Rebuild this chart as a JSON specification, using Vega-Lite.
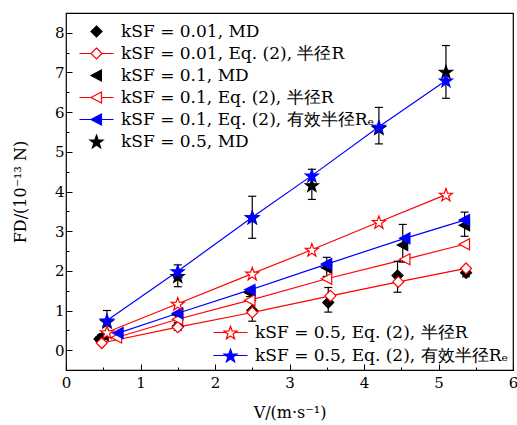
{
  "$schema": "https://vega.github.io/schema/vega-lite/v6.json",
  "width": 447,
  "height": 357,
  "autosize": "none",
  "padding": {"left": 66, "top": 13, "right": 4, "bottom": 55},
  "config": {
    "view": {"stroke": "#000", "strokeWidth": 1.2},
    "font": "DejaVu Serif",
    "axis": {"domain": false, "grid": false, "labelFont": "DejaVu Serif", "labelFontSize": 15, "labelColor": "#000", "titleFont": "DejaVu Serif", "titleFontSize": 16, "titleFontWeight": "normal", "titleColor": "#000", "tickColor": "#000", "tickWidth": 1},
    "legend": {"labelFont": "DejaVu Serif", "labelFontSize": 17, "labelColor": "#000", "labelLimit": 500, "padding": 0, "symbolStrokeWidth": 1.2, "symbolSize": 121, "symbolOpacity": 1, "rowPadding": 4, "labelOffset": 16}
  },
  "datasets": {
    "pts": [
      {"s": "kSF = 0.01, MD", "v": 0.45, "f": 0.28, "lo": 0.22, "hi": 0.34},
      {"s": "kSF = 0.01, MD", "v": 1.5, "f": 0.6, "lo": 0.5, "hi": 0.7},
      {"s": "kSF = 0.01, MD", "v": 2.5, "f": 1.0, "lo": 0.73, "hi": 1.25},
      {"s": "kSF = 0.01, MD", "v": 3.52, "f": 1.2, "lo": 0.96, "hi": 1.58},
      {"s": "kSF = 0.01, MD", "v": 4.45, "f": 1.88, "lo": 1.46, "hi": 2.24},
      {"s": "kSF = 0.01, MD", "v": 5.37, "f": 1.95, "lo": 1.85, "hi": 2.05},
      {"s": "kSF = 0.01, Eq. (2), 半径R", "v": 0.48, "f": 0.18},
      {"s": "kSF = 0.01, Eq. (2), 半径R", "v": 1.5, "f": 0.58},
      {"s": "kSF = 0.01, Eq. (2), 半径R", "v": 2.5, "f": 0.95},
      {"s": "kSF = 0.01, Eq. (2), 半径R", "v": 3.55, "f": 1.37},
      {"s": "kSF = 0.01, Eq. (2), 半径R", "v": 4.46, "f": 1.72},
      {"s": "kSF = 0.01, Eq. (2), 半径R", "v": 5.37, "f": 2.06},
      {"s": "kSF = 0.1, MD", "v": 0.5, "f": 0.38},
      {"s": "kSF = 0.1, MD", "v": 1.5, "f": 0.9},
      {"s": "kSF = 0.1, MD", "v": 2.47, "f": 1.45, "lo": 1.35, "hi": 1.55},
      {"s": "kSF = 0.1, MD", "v": 3.5, "f": 2.08, "lo": 1.86, "hi": 2.34},
      {"s": "kSF = 0.1, MD", "v": 4.52, "f": 2.65, "lo": 2.22, "hi": 3.17},
      {"s": "kSF = 0.1, MD", "v": 5.35, "f": 3.15, "lo": 2.87, "hi": 3.48},
      {"s": "kSF = 0.1, Eq. (2), 半径R", "v": 0.68, "f": 0.32},
      {"s": "kSF = 0.1, Eq. (2), 半径R", "v": 1.5, "f": 0.78},
      {"s": "kSF = 0.1, Eq. (2), 半径R", "v": 2.47, "f": 1.26},
      {"s": "kSF = 0.1, Eq. (2), 半径R", "v": 3.5, "f": 1.8},
      {"s": "kSF = 0.1, Eq. (2), 半径R", "v": 4.55, "f": 2.29},
      {"s": "kSF = 0.1, Eq. (2), 半径R", "v": 5.35, "f": 2.67},
      {"s": "kSF = 0.1, Eq. (2), 有效半径Rₑ", "v": 0.7, "f": 0.43},
      {"s": "kSF = 0.1, Eq. (2), 有效半径Rₑ", "v": 1.5, "f": 0.93},
      {"s": "kSF = 0.1, Eq. (2), 有效半径Rₑ", "v": 2.47, "f": 1.52},
      {"s": "kSF = 0.1, Eq. (2), 有效半径Rₑ", "v": 3.5, "f": 2.17},
      {"s": "kSF = 0.1, Eq. (2), 有效半径Rₑ", "v": 4.55, "f": 2.82},
      {"s": "kSF = 0.1, Eq. (2), 有效半径Rₑ", "v": 5.35, "f": 3.28},
      {"s": "kSF = 0.5, MD", "v": 0.55, "f": 0.72, "lo": 0.45, "hi": 1.0},
      {"s": "kSF = 0.5, MD", "v": 1.5, "f": 1.87, "lo": 1.6, "hi": 2.15},
      {"s": "kSF = 0.5, MD", "v": 2.5, "f": 3.35, "lo": 2.82, "hi": 3.88},
      {"s": "kSF = 0.5, MD", "v": 3.3, "f": 4.16, "lo": 3.8, "hi": 4.56},
      {"s": "kSF = 0.5, MD", "v": 4.2, "f": 5.6, "lo": 5.2, "hi": 6.12},
      {"s": "kSF = 0.5, MD", "v": 5.1, "f": 7.02, "lo": 6.35, "hi": 7.68},
      {"s": "kSF = 0.5, Eq. (2), 半径R", "v": 0.55, "f": 0.45},
      {"s": "kSF = 0.5, Eq. (2), 半径R", "v": 1.5, "f": 1.17},
      {"s": "kSF = 0.5, Eq. (2), 半径R", "v": 2.5, "f": 1.93},
      {"s": "kSF = 0.5, Eq. (2), 半径R", "v": 3.3, "f": 2.53},
      {"s": "kSF = 0.5, Eq. (2), 半径R", "v": 4.2, "f": 3.23},
      {"s": "kSF = 0.5, Eq. (2), 半径R", "v": 5.1, "f": 3.92},
      {"s": "kSF = 0.5, Eq. (2), 有效半径Rₑ", "v": 0.55, "f": 0.75},
      {"s": "kSF = 0.5, Eq. (2), 有效半径Rₑ", "v": 1.5, "f": 1.99},
      {"s": "kSF = 0.5, Eq. (2), 有效半径Rₑ", "v": 2.5, "f": 3.35},
      {"s": "kSF = 0.5, Eq. (2), 有效半径Rₑ", "v": 3.3, "f": 4.4},
      {"s": "kSF = 0.5, Eq. (2), 有效半径Rₑ", "v": 4.2, "f": 5.63},
      {"s": "kSF = 0.5, Eq. (2), 有效半径Rₑ", "v": 5.1, "f": 6.8}
    ]
  },
  "data": {"name": "pts"},
  "encoding": {
    "x": {"field": "v", "type": "quantitative", "scale": {"domain": [0, 6], "nice": false, "zero": false},
      "axis": {"title": "V/(m·s⁻¹)", "values": [0,0.5,1,1.5,2,2.5,3,3.5,4,4.5,5,5.5,6], "labelExpr": "datum.value % 1 === 0 ? toString(datum.value) : ''", "tickSize": {"condition": {"test": "datum.value % 1 === 0", "value": -6}, "value": -3}, "labelPadding": 11, "titlePadding": 14, "labelFlush": false}},
    "y": {"field": "f", "type": "quantitative", "scale": {"domain": [-0.5, 8.5], "nice": false, "zero": false},
      "axis": {"title": "FD/(10⁻¹³ N)", "values": [0,0.5,1,1.5,2,2.5,3,3.5,4,4.5,5,5.5,6,6.5,7,7.5,8], "labelExpr": "datum.value % 1 === 0 ? toString(datum.value) : ''", "tickSize": {"condition": {"test": "datum.value % 1 === 0", "value": -6}, "value": -3}, "labelPadding": 8, "titlePadding": 26, "labelFlush": false}}
  },
  "layer": [
    {
      "transform": [{"filter": {"field": "s", "oneOf": ["kSF = 0.01, Eq. (2), 半径R", "kSF = 0.1, Eq. (2), 半径R", "kSF = 0.1, Eq. (2), 有效半径Rₑ", "kSF = 0.5, Eq. (2), 半径R", "kSF = 0.5, Eq. (2), 有效半径Rₑ"]}}],
      "mark": {"type": "line", "strokeWidth": 1.2},
      "encoding": {
        "stroke": {"field": "s", "type": "nominal", "legend": null,
          "scale": {"domain": ["kSF = 0.01, Eq. (2), 半径R", "kSF = 0.1, Eq. (2), 半径R", "kSF = 0.1, Eq. (2), 有效半径Rₑ", "kSF = 0.5, Eq. (2), 半径R", "kSF = 0.5, Eq. (2), 有效半径Rₑ"], "range": ["#ff0000", "#ff0000", "#0000ff", "#ff0000", "#0000ff"]}},
        "detail": {"field": "s"}
      }
    },
    {
      "transform": [{"filter": {"field": "lo", "valid": true}}],
      "mark": {"type": "rule", "color": "#000", "strokeWidth": 1.2},
      "encoding": {"y": {"field": "lo", "type": "quantitative"}, "y2": {"field": "hi"}}
    },
    {
      "transform": [{"filter": {"field": "lo", "valid": true}}],
      "mark": {"type": "tick", "orient": "horizontal", "color": "#000", "size": 8, "thickness": 1.2, "opacity": 1},
      "encoding": {"y": {"field": "lo", "type": "quantitative"}}
    },
    {
      "transform": [{"filter": {"field": "lo", "valid": true}}],
      "mark": {"type": "tick", "orient": "horizontal", "color": "#000", "size": 8, "thickness": 1.2, "opacity": 1},
      "encoding": {"y": {"field": "hi", "type": "quantitative"}}
    },
    {
      "mark": {"type": "point", "filled": true, "opacity": 1, "size": 121, "strokeWidth": 1.2},
      "encoding": {
        "shape": {"field": "s", "type": "nominal", "legend": null, "scale": {
          "domain": ["kSF = 0.01, MD", "kSF = 0.01, Eq. (2), 半径R", "kSF = 0.1, MD", "kSF = 0.1, Eq. (2), 半径R", "kSF = 0.1, Eq. (2), 有效半径Rₑ", "kSF = 0.5, MD", "kSF = 0.5, Eq. (2), 半径R", "kSF = 0.5, Eq. (2), 有效半径Rₑ"],
          "range": ["M0,-1L1,0L0,1L-1,0Z", "M0,-1L1,0L0,1L-1,0Z", "M-1,0L0.9,-1L0.9,1Z", "M-1,0L0.9,-1L0.9,1Z", "M-1,0L0.9,-1L0.9,1Z",
            "M0,-1.13L0.294,-0.285L1.189,-0.266L0.476,0.275L0.735,1.131L0,0.62L-0.735,1.131L-0.476,0.275L-1.189,-0.266L-0.294,-0.285Z",
            "M0,-1.13L0.294,-0.285L1.189,-0.266L0.476,0.275L0.735,1.131L0,0.62L-0.735,1.131L-0.476,0.275L-1.189,-0.266L-0.294,-0.285Z",
            "M0,-1.13L0.294,-0.285L1.189,-0.266L0.476,0.275L0.735,1.131L0,0.62L-0.735,1.131L-0.476,0.275L-1.189,-0.266L-0.294,-0.285Z"]}},
        "fill": {"field": "s", "type": "nominal", "legend": null, "scale": {
          "domain": ["kSF = 0.01, MD", "kSF = 0.01, Eq. (2), 半径R", "kSF = 0.1, MD", "kSF = 0.1, Eq. (2), 半径R", "kSF = 0.1, Eq. (2), 有效半径Rₑ", "kSF = 0.5, MD", "kSF = 0.5, Eq. (2), 半径R", "kSF = 0.5, Eq. (2), 有效半径Rₑ"],
          "range": ["#000000", "#ffffff", "#000000", "#ffffff", "#0000ff", "#000000", "#ffffff", "#0000ff"]}},
        "stroke": {"field": "s", "type": "nominal", "legend": null, "scale": {
          "domain": ["kSF = 0.01, MD", "kSF = 0.01, Eq. (2), 半径R", "kSF = 0.1, MD", "kSF = 0.1, Eq. (2), 半径R", "kSF = 0.1, Eq. (2), 有效半径Rₑ", "kSF = 0.5, MD", "kSF = 0.5, Eq. (2), 半径R", "kSF = 0.5, Eq. (2), 有效半径Rₑ"],
          "range": ["#000000", "#ff0000", "#000000", "#ff0000", "#0000ff", "#000000", "#ff0000", "#0000ff"]}}
      }
    },
    {
      "transform": [{"filter": {"field": "s", "oneOf": ["kSF = 0.01, MD", "kSF = 0.01, Eq. (2), 半径R", "kSF = 0.1, MD", "kSF = 0.1, Eq. (2), 半径R", "kSF = 0.1, Eq. (2), 有效半径Rₑ", "kSF = 0.5, MD"]}}],
      "mark": {"type": "point", "filled": true, "opacity": 0, "size": 121, "strokeWidth": 1.2},
      "encoding": {
        "shape": {"field": "s", "type": "nominal", "legend": {"title": null, "orient": "none", "legendX": 22, "legendY": 10}, "scale": {
          "domain": ["kSF = 0.01, MD", "kSF = 0.01, Eq. (2), 半径R", "kSF = 0.1, MD", "kSF = 0.1, Eq. (2), 半径R", "kSF = 0.1, Eq. (2), 有效半径Rₑ", "kSF = 0.5, MD"],
          "range": ["M0,-1L1,0L0,1L-1,0Z", "M-3.1,0H-1M1,0H3.1M0,-1L1,0L0,1L-1,0Z", "M-1,0L0.9,-1L0.9,1Z", "M-3.1,0H-1M0.9,0H3.1M-1,0L0.9,-1L0.9,1Z", "M-3.1,0H-1M0.9,0H3.1M-1,0L0.9,-1L0.9,1Z",
            "M0,-1.13L0.294,-0.285L1.189,-0.266L0.476,0.275L0.735,1.131L0,0.62L-0.735,1.131L-0.476,0.275L-1.189,-0.266L-0.294,-0.285Z"]}},
        "fill": {"field": "s", "type": "nominal", "legend": {"title": null, "orient": "none", "legendX": 22, "legendY": 10}, "scale": {
          "domain": ["kSF = 0.01, MD", "kSF = 0.01, Eq. (2), 半径R", "kSF = 0.1, MD", "kSF = 0.1, Eq. (2), 半径R", "kSF = 0.1, Eq. (2), 有效半径Rₑ", "kSF = 0.5, MD"],
          "range": ["#000000", "#ffffff", "#000000", "#ffffff", "#0000ff", "#000000"]}},
        "stroke": {"field": "s", "type": "nominal", "legend": {"title": null, "orient": "none", "legendX": 22, "legendY": 10}, "scale": {
          "domain": ["kSF = 0.01, MD", "kSF = 0.01, Eq. (2), 半径R", "kSF = 0.1, MD", "kSF = 0.1, Eq. (2), 半径R", "kSF = 0.1, Eq. (2), 有效半径Rₑ", "kSF = 0.5, MD"],
          "range": ["#000000", "#ff0000", "#000000", "#ff0000", "#0000ff", "#000000"]}}
      }
    },
    {
      "transform": [{"filter": {"field": "s", "oneOf": ["kSF = 0.5, Eq. (2), 半径R", "kSF = 0.5, Eq. (2), 有效半径Rₑ"]}}],
      "mark": {"type": "point", "filled": true, "opacity": 0, "size": 121, "strokeWidth": 1.2},
      "encoding": {
        "shape": {"field": "s", "type": "nominal", "legend": {"title": null, "orient": "none", "legendX": 156, "legendY": 311}, "scale": {
          "domain": ["kSF = 0.5, Eq. (2), 半径R", "kSF = 0.5, Eq. (2), 有效半径Rₑ"],
          "range": ["M-3.1,0H-0.84M0.84,0H3.1M0,-1.13L0.294,-0.285L1.189,-0.266L0.476,0.275L0.735,1.131L0,0.62L-0.735,1.131L-0.476,0.275L-1.189,-0.266L-0.294,-0.285Z",
            "M-3.1,0H-0.84M0.84,0H3.1M0,-1.13L0.294,-0.285L1.189,-0.266L0.476,0.275L0.735,1.131L0,0.62L-0.735,1.131L-0.476,0.275L-1.189,-0.266L-0.294,-0.285Z"]}},
        "fill": {"field": "s", "type": "nominal", "legend": {"title": null, "orient": "none", "legendX": 156, "legendY": 311}, "scale": {
          "domain": ["kSF = 0.5, Eq. (2), 半径R", "kSF = 0.5, Eq. (2), 有效半径Rₑ"],
          "range": ["#ffffff", "#0000ff"]}},
        "stroke": {"field": "s", "type": "nominal", "legend": {"title": null, "orient": "none", "legendX": 156, "legendY": 311}, "scale": {
          "domain": ["kSF = 0.5, Eq. (2), 半径R", "kSF = 0.5, Eq. (2), 有效半径Rₑ"],
          "range": ["#ff0000", "#0000ff"]}}
      }
    }
  ],
  "resolve": {"scale": {"shape": "independent", "fill": "independent", "stroke": "independent"}}
}
